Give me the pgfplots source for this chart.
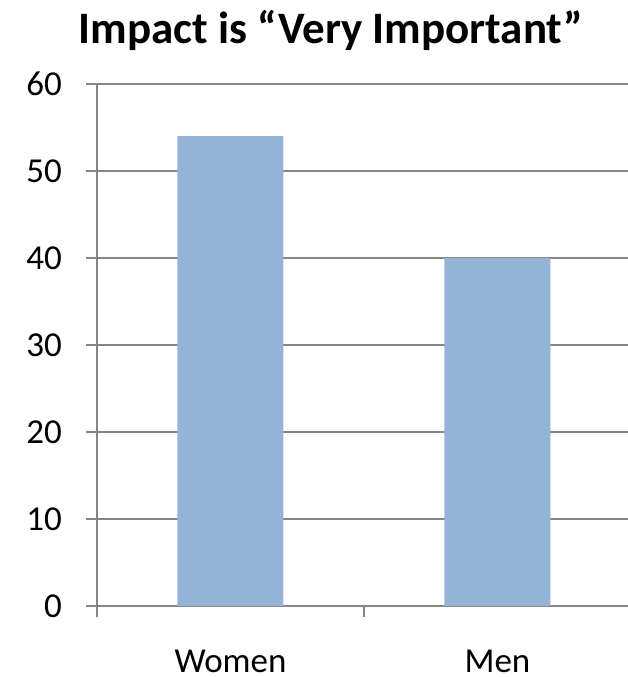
\documentclass[border=0pt]{standalone}
\usepackage{pgfplots}
\pgfplotsset{compat=1.18}
\usepackage{fontspec}
\setmainfont{Carlito}
\definecolor{barblue}{HTML}{95B3D7}
\definecolor{gridgray}{HTML}{868686}
\begin{document}
\begin{tikzpicture}
\begin{axis}[
  at={(0,0)}, anchor=south west,
  scale only axis,
  width=531pt, height=522pt,
  xmin=-0.5, xmax=1.489,
  ymin=0, ymax=60,
  ytick={0,10,...,60},
  xtick={-0.5,0.5},
  xticklabels={},
  extra x ticks={0,1},
  extra x tick labels={Women,Men},
  extra x tick style={major tick length=0pt, grid=none},
  axis x line=bottom, axis y line=left,
  axis line style={-, draw=gridgray, line width=1.6pt},
  ymajorgrids,
  grid style={draw=gridgray, line width=1.3pt},
  major tick length=11pt,
  tick align=outside,
  tick style={draw=gridgray, line width=1.3pt},
  font=\fontsize{35}{42}\selectfont,
  /pgf/number format/assume math mode=true,
  yticklabel style={anchor=east, inner sep=0pt, xshift=-24pt},
  xticklabel style={anchor=base, inner sep=0pt, yshift=-66pt},
  ybar, bar width=106pt,
  clip=false,
]
\addplot[draw=none, fill=barblue] coordinates {(0,54) (1,40)};
\end{axis}
\node[anchor=base, font=\fontsize{45}{52}\selectfont\bfseries] at (234pt,562pt) {Impact is “Very Important”};
\pgfresetboundingbox
\useasboundingbox (-97pt,-71pt) rectangle (531pt,606pt);
\end{tikzpicture}
\end{document}
